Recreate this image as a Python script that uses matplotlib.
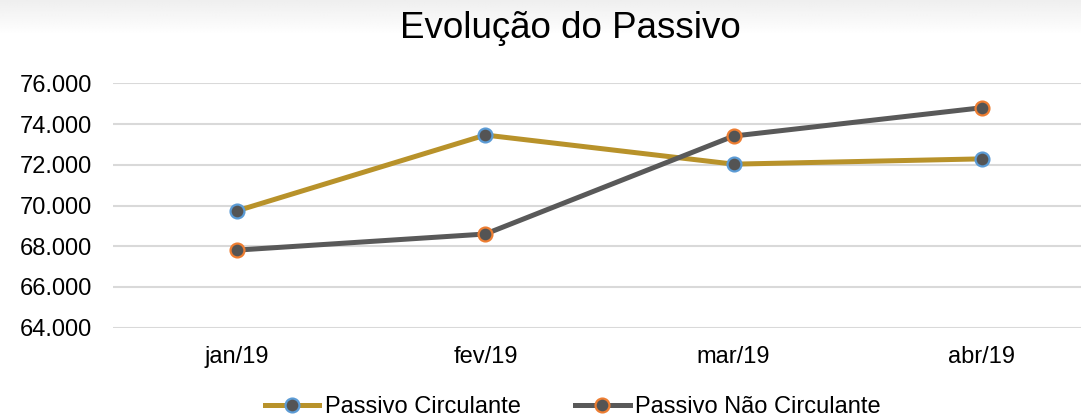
import numpy as np
import matplotlib.pyplot as plt

plt.rcParams['font.family'] = ['Liberation Sans', 'DejaVu Sans']

meses = ['jan/19', 'fev/19', 'mar/19', 'abr/19']
circulante = [69.74, 73.46, 72.03, 72.29]
nao_circulante = [67.81, 68.60, 73.41, 74.80]
yticks = [64, 66, 68, 70, 72, 74, 76]

W, H = 1081, 419
fig = plt.figure(figsize=(W / 100, H / 100), dpi=100)
fig.patch.set_facecolor('white')

# faint grey shading at the top edge
bg = fig.add_axes([0, 1 - 36 / H, 1, 36 / H], zorder=-10)
grad = np.linspace(0.935, 1.0, 36) ** 1.0
bg.imshow(np.tile(grad[:, None], (1, 10)), cmap='gray', vmin=0, vmax=1,
          aspect='auto', extent=(0, 1, 0, 1), interpolation='bilinear')
bg.axis('off')

# axes reaches past the right border, like the cropped original
left, right = 113, 1106
top, bottom = 83.3, 327.7
ax = fig.add_axes([left / W, 1 - bottom / H, (right - left) / W, (bottom - top) / H])
ax.patch.set_alpha(0)

x = np.arange(len(meses))
ax.plot(x, circulante, color='#B8922A', lw=3.6, marker='o', ms=10,
        mfc='#545454', mec='#5B9BD5', mew=1.6, label='Passivo Circulante', zorder=3)
ax.plot(x, nao_circulante, color='#595959', lw=3.6, marker='o', ms=10,
        mfc='#545454', mec='#ED7D31', mew=1.6, label='Passivo Não Circulante', zorder=4)

ax.set_xlim(-0.5, len(meses) - 0.5)
ax.set_ylim(64, 76)
ax.set_yticks(yticks)
ax.set_yticklabels([f'{v}.000' for v in yticks])
ax.set_xticks(x)
ax.set_xticklabels(meses)
ax.tick_params(length=0, labelsize=17, colors='#000000')
ax.tick_params(axis='y', pad=15)
ax.tick_params(axis='x', pad=13)
ax.grid(axis='y', color='#D9D9D9', lw=1.5)
ax.set_axisbelow(True)
for s in ax.spines.values():
    s.set_visible(False)

fig.text(570 / W, 1 - 28 / H, 'Evolução do Passivo', ha='center', va='center', fontsize=26.5)

fig.legend(loc='center', bbox_to_anchor=(573 / W, 1 - 407 / H), ncol=2, frameon=False,
           fontsize=17, handlelength=2.3, handletextpad=0.25, columnspacing=2.3,
           borderaxespad=0, borderpad=0)

fig.savefig('out.png', dpi=100)
